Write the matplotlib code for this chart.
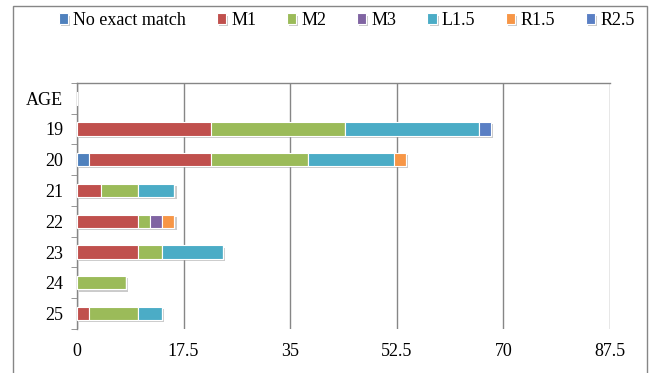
import matplotlib
matplotlib.use("agg")
from matplotlib import pyplot as plt
from matplotlib import patheffects as pe
import numpy as np

categories = ["AGE", "19", "20", "21", "22", "23", "24", "25"]
series_names = ["No exact match", "M1", "M2", "M3", "L1.5", "R1.5", "R2.5"]

# counts per age, first slot ("AGE") is just a header row with no bars
no_exact = [0, 0, 2, 0, 0, 0, 0, 0]
m1 = [0, 22, 20, 4, 10, 10, 0, 2]
m2 = [0, 22, 16, 6, 2, 4, 8, 8]
m3 = [0, 0, 0, 0, 2, 0, 0, 0]
l15 = [0, 22, 14, 6, 0, 10, 0, 4]
r15 = [0, 0, 2, 0, 2, 0, 0, 0]
r25 = [0, 2, 0, 0, 0, 0, 0, 0]

colors = ["#4F81BD", "#C0504D", "#9BBB59", "#8064A2", "#4BACC6", "#F79646", "#5A7FC4"]
x_ticks = [0, 17.5, 35, 52.5, 70, 87.5]
x_tick_labels = ["0", "17.5", "35", "52.5", "70", "87.5"]

plt.rcParams["font.family"] = ["Liberation Serif", "DejaVu Serif"]

fig = plt.figure(figsize=(6.58, 3.73), dpi=100)
ax = fig.add_axes([0.117, 0.118, 0.810, 0.660])

y = np.arange(len(categories))
left = np.zeros(len(categories))
shadow = [pe.SimplePatchShadow(offset=(1.5, -1.5), shadow_rgbFace="#999999", alpha=0.5), pe.Normal()]
for name, vals, col in zip(series_names, [no_exact, m1, m2, m3, l15, r15, r25], colors):
    vals = np.array(vals, dtype=float)
    bars = ax.barh(y, vals, left=left, height=0.43, color=col, edgecolor="white",
                   linewidth=0.8, label=name, zorder=3)
    for b in bars:
        b.set_path_effects(shadow)
    left += vals

ax.set_ylim(len(categories) - 0.5, -0.5)
ax.set_xlim(0, 87.5)
ax.set_yticks(y)
ax.set_yticklabels(categories, fontsize=13)
ax.set_yticks(np.arange(-0.5, len(categories)), minor=True)
ax.tick_params(axis="y", which="major", length=0, pad=10)
ax.tick_params(axis="y", which="minor", length=4, color="#868686", direction="out")

ax.set_xticks(x_ticks)
ax.set_xticklabels(x_tick_labels, fontsize=13)
ax.tick_params(axis="x", length=0, pad=10)
ax.grid(axis="x", color="#868686", linewidth=1, zorder=0)

for side in ["bottom", "right"]:
    ax.spines[side].set_visible(False)
for side in ["top", "left"]:
    ax.spines[side].set_color("#868686")
    ax.spines[side].set_linewidth(1)

ax.legend(loc="center", bbox_to_anchor=(0.527, 0.945), bbox_transform=fig.transFigure,
          ncol=7, frameon=False, fontsize=13, handlelength=0.5, handleheight=0.5,
          handletextpad=0.3, columnspacing=1.7)

# outer chart border
fig.patches.append(plt.Rectangle((0.02, -0.01), 0.963, 0.995, transform=fig.transFigure,
                                 fill=False, edgecolor="#868686", linewidth=1))

fig.savefig("out.png", dpi=100)
